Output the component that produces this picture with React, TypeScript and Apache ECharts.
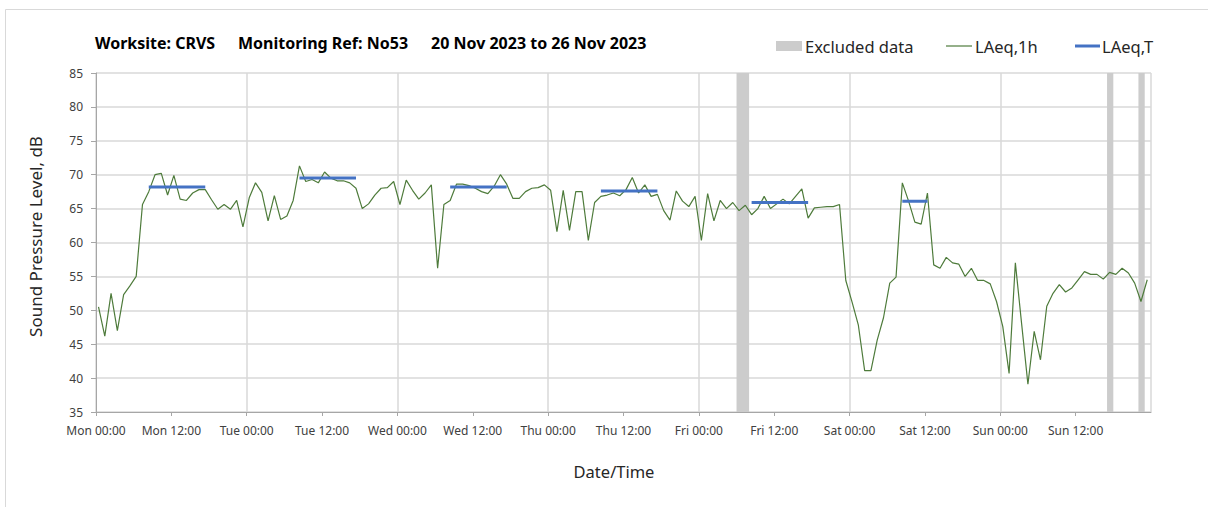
import React, { useEffect, useRef } from "react";
import * as echarts from "echarts";

// Hourly LAeq,1h levels (dB), Mon 00:00 onwards
const levels: number[] = [
  50.5, 46.2, 52.5, 47.0, 52.3, 53.6, 55.0, 65.6, 67.5, 70.0, 70.2, 67.0,
  69.9, 66.4, 66.2, 67.3, 67.8, 67.8, 66.3, 64.9, 65.6, 64.9, 66.2, 62.3,
  66.6, 68.8, 67.4, 63.2, 66.9, 63.4, 63.9, 66.2, 71.3, 69.0, 69.3, 68.8,
  70.4, 69.5, 69.1, 69.1, 68.8, 68.0, 65.0, 65.7, 67.0, 68.0, 68.1, 69.0,
  65.6, 69.2, 67.7, 66.4, 67.3, 68.5, 56.2, 65.6, 66.2, 68.6, 68.6, 68.4,
  68.0, 67.5, 67.2, 68.3, 70.0, 68.6, 66.5, 66.5, 67.5, 68.0, 68.1, 68.5,
  67.7, 61.6, 67.7, 61.8, 67.5, 67.5, 60.3, 65.9, 66.8, 67.0, 67.3, 66.9,
  67.8, 69.6, 67.3, 68.5, 66.8, 67.1, 64.7, 63.3, 67.6, 66.1, 65.3, 66.8,
  60.3, 67.2, 63.2, 66.2, 65.0, 65.9, 64.7, 65.5, 64.1, 65.0, 66.8, 65.0,
  65.7, 66.4, 65.7, 66.8, 67.9, 63.6, 65.1, 65.2, 65.3, 65.3, 65.6, 54.4,
  51.2, 47.8, 41.1, 41.1, 45.6, 48.9, 54.0, 54.9, 68.8, 66.1, 63.0, 62.7,
  67.3, 56.7, 56.2, 57.8, 57.0, 56.8, 55.0, 56.2, 54.4, 54.4, 53.9, 51.3,
  47.6, 40.7, 57.0, 48.0, 39.1, 46.9, 42.7, 50.6, 52.5, 53.8, 52.7, 53.3,
  54.5, 55.7, 55.3, 55.3, 54.6, 55.6, 55.3, 56.2, 55.5, 54.0, 51.3, 54.5,
];
const HOUR_OFFSET = 0.4; // readings plotted slightly after the hour

// LAeq,T periods (hour index start/end, level dB)
const periodStart = [8, 32, 56, 80, 104, 128];
const periodEnd = [17, 41, 65, 89, 113, 132];
const periodValue = [68.2, 69.5, 68.2, 67.6, 65.9, 66.1];

// Excluded data (hours from Mon 00:00)
const excludedStart = [102, 161, 166];
const excludedEnd = [104, 162, 167];

const dayNames = ["Mon", "Tue", "Wed", "Thu", "Fri", "Sat", "Sun"];
const yMin = 35;
const yMax = 85;
const yStep = 5;
const xMax = 168;
const xStep = 12;

const titleParts = ["Worksite: CRVS", "Monitoring Ref: No53", "20 Nov 2023 to 26 Nov 2023"];
const legendNames = ["Excluded data", "LAeq,1h", "LAeq,T"];

const GREEN = "#4E7B3B";
const BLUE = "#4472C4";
const GREY_BAND = "#cccccc";
const FONT = "'Noto Sans', sans-serif";

export default function App() {
  const ref = useRef<HTMLDivElement>(null);

  useEffect(() => {
    if (!ref.current) return;
    const chart = echarts.init(ref.current, null, { renderer: "svg" });

    const lineData = levels.map((v, i) => [i + HOUR_OFFSET, v]);
    const tData: any[] = [];
    periodStart.forEach((s, k) => {
      tData.push([s + HOUR_OFFSET, periodValue[k]]);
      tData.push([periodEnd[k] + HOUR_OFFSET, periodValue[k]]);
      tData.push([periodEnd[k] + HOUR_OFFSET + 0.5, "-"]);
    });
    const bands = excludedStart.map((s, k) => [{ xAxis: s }, { xAxis: excludedEnd[k] }]);

    const labelFmt = (v: number) => {
      if (v >= xMax) return "";
      const d = Math.floor(v / 24);
      const h = v % 24;
      return `${dayNames[d]} ${h === 0 ? "00:00" : "12:00"}`;
    };

    const legY = 46;
    const titleY = 43;
    const titleFont = `bold 16px ${FONT}`;
    const legFont = `16.5px ${FONT}`;
    chart.setOption({
      animation: false,
      backgroundColor: "#ffffff",
      textStyle: { fontFamily: FONT },
      grid: { left: 96, right: 57, top: 73, bottom: 95, containLabel: false },
      xAxis: [
        {
          type: "value",
          min: 0,
          max: xMax,
          interval: xStep,
          name: "Date/Time",
          nameLocation: "middle",
          nameGap: 51,
          nameTextStyle: { fontSize: 16.5, color: "#262626", fontFamily: FONT, padding: [0, 19, 0, 0] },
          axisLine: { show: true, lineStyle: { color: "#a6a6a6", width: 1 } },
          axisTick: { show: true, length: 4, lineStyle: { color: "#a6a6a6" } },
          axisLabel: {
            formatter: labelFmt,
            fontSize: 12,
            color: "#404040",
            margin: 12,
            showMaxLabel: false,
            fontFamily: FONT,
          },
          splitLine: { show: false },
        },
        {
          type: "value",
          min: 0,
          max: xMax,
          interval: 24,
          position: "bottom",
          axisLine: { show: false },
          axisTick: { show: false },
          axisLabel: { show: false },
          splitLine: { show: true, lineStyle: { color: "#d9d9d9", width: 1.5 } },
        },
      ],
      yAxis: {
        type: "value",
        min: yMin,
        max: yMax,
        interval: yStep,
        name: "Sound Pressure Level, dB",
        nameLocation: "middle",
        nameGap: 52,
        nameRotate: 90,
        nameTextStyle: { fontSize: 17, color: "#262626", fontFamily: FONT, padding: [0, 0, 0, 12] },
        axisLine: { show: true, lineStyle: { color: "#a6a6a6", width: 1 } },
        axisTick: { show: true, length: 5, lineStyle: { color: "#a6a6a6" } },
        axisLabel: { fontSize: 12, color: "#404040", margin: 13, fontFamily: FONT },
        splitLine: { show: true, lineStyle: { color: "#d9d9d9", width: 1.5 } },
      },
      series: [
        {
          name: legendNames[0],
          type: "line",
          xAxisIndex: 0,
          data: [],
          silent: true,
          markArea: {
            silent: true,
            itemStyle: { color: GREY_BAND, opacity: 1 },
            data: bands,
          },
          z: 1,
        },
        {
          name: legendNames[1],
          type: "line",
          xAxisIndex: 0,
          data: lineData,
          showSymbol: false,
          symbol: "none",
          lineStyle: { color: GREEN, width: 1.2 },
          itemStyle: { color: GREEN },
          z: 3,
        },
        {
          name: legendNames[2],
          type: "line",
          xAxisIndex: 0,
          data: tData,
          showSymbol: false,
          symbol: "none",
          connectNulls: false,
          lineStyle: { color: BLUE, width: 3 },
          itemStyle: { color: BLUE },
          z: 4,
        },
      ],
      graphic: [
        {
          type: "rect",
          shape: { x: 5.5, y: 9.5, width: 1400, height: 700 },
          style: { fill: "none", stroke: "#d9d9d9", lineWidth: 1 },
          silent: true,
          z: 0,
        },
        {
          type: "text",
          x: 95,
          y: titleY,
          style: { text: titleParts[0], font: titleFont, fill: "#000", textVerticalAlign: "middle" },
        },
        {
          type: "text",
          x: 238,
          y: titleY,
          style: { text: titleParts[1], font: titleFont, fill: "#000", textVerticalAlign: "middle" },
        },
        {
          type: "text",
          x: 431,
          y: titleY,
          style: { text: titleParts[2], font: titleFont, fill: "#000", textVerticalAlign: "middle" },
        },
        {
          type: "rect",
          shape: { x: 776, y: legY - 5, width: 26, height: 10 },
          style: { fill: GREY_BAND },
        },
        {
          type: "text",
          x: 805,
          y: legY,
          style: { text: legendNames[0], font: legFont, fill: "#262626", textVerticalAlign: "middle" },
        },
        {
          type: "line",
          shape: { x1: 946, y1: legY, x2: 972, y2: legY },
          style: { stroke: GREEN, lineWidth: 1.2 },
        },
        {
          type: "text",
          x: 975,
          y: legY,
          style: { text: legendNames[1], font: legFont, fill: "#262626", textVerticalAlign: "middle" },
        },
        {
          type: "line",
          shape: { x1: 1075, y1: legY, x2: 1100, y2: legY },
          style: { stroke: BLUE, lineWidth: 3 },
        },
        {
          type: "text",
          x: 1102,
          y: legY,
          style: { text: legendNames[2], font: legFont, fill: "#262626", textVerticalAlign: "middle" },
        },
      ],
    });

    return () => chart.dispose();
  }, []);

  return (
    <div
      ref={ref}
      style={{ position: "absolute", left: 0, top: 0, width: 1208, height: 507, background: "#fff" }}
    />
  );
}
